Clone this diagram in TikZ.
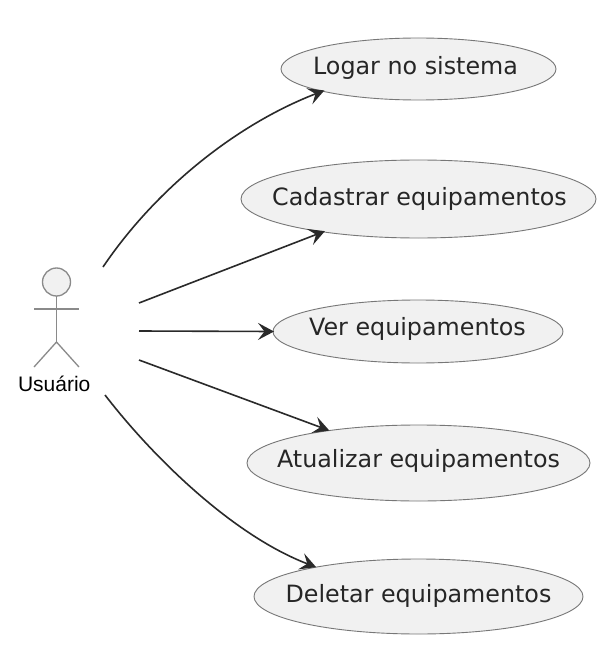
\documentclass[tikz,border=0pt]{standalone}
\usepackage{fontspec}
\setmainfont{DejaVu Sans}
\newfontfamily\labelfont{Liberation Sans}
\usetikzlibrary{shapes.geometric,arrows.meta}
\definecolor{fillc}{HTML}{F1F1F1}
\definecolor{linec}{HTML}{2A2A2A}
\definecolor{edgec}{HTML}{777777}
\definecolor{actc}{HTML}{8A8A8A}
\newcommand{\cenlabel}[3]{\raisebox{#2}[\height][\depth]{\makebox[0pt][c]{\hspace*{#1}#3}}}
\tikzset{
  usecase/.style={ellipse,draw=edgec,fill=fillc,line width=0.9pt,inner sep=0pt,outer sep=0pt,text=black!85,font=\fontsize{23.8}{28}\selectfont},
  assoc/.style={draw=linec,line width=1.6pt,-{Stealth[length=16pt,width=17pt,inset=6.5pt]}},
  stick/.style={draw=actc,line width=1.3pt}
}
\begin{document}
\begin{tikzpicture}[x=1pt,y=-1pt]
\useasboundingbox[fill=white] (0,0) rectangle (615,663);
\node[usecase,minimum width=275pt,minimum height=62pt] (logar) at (418.5,69) {\cenlabel{-6pt}{1pt}{Logar no sistema}};
\node[usecase,minimum width=355pt,minimum height=78pt] (cad) at (418.5,199) {\cenlabel{2pt}{0pt}{Cadastrar equipamentos}};
\node[usecase,minimum width=290pt,minimum height=63pt] (ver) at (418,331.5) {\cenlabel{-1pt}{2.5pt}{Ver equipamentos}};
\node[usecase,minimum width=343pt,minimum height=76pt] (atu) at (418.5,463) {\cenlabel{0pt}{2pt}{Atualizar equipamentos}};
\node[usecase,minimum width=329pt,minimum height=75pt] (del) at (418.5,596.5) {\cenlabel{0pt}{1pt}{Deletar equipamentos}};
% actor
\node[circle,draw=actc,fill=fillc,line width=1.3pt,minimum size=28pt,inner sep=0pt,outer sep=0pt] (head) at (56.5,282) {};
\coordinate (hip) at (56.5,342);
\coordinate (armL) at (34,309);
\coordinate (armR) at (79,309);
\coordinate (legL) at (34,367);
\coordinate (legR) at (79,367);
\draw[stick] (head.south) -- (hip);
\draw[stick] (armL) -- (armR);
\draw[stick] (legL) -- (hip) -- (legR);
\node[font=\labelfont\fontsize{21}{24}\selectfont,text=black,inner sep=0pt] (user) at (54.2,384) {Usuário};
% free ends
\coordinate (s1) at (103,267);
\coordinate (s2) at (139,303);
\coordinate (s3) at (139,331);
\coordinate (s4) at (139,360);
\coordinate (s5) at (105,395);
\draw[assoc,shorten >=-2pt] (s1) .. controls (155,190) and (235,125) .. (logar.193.6);
\draw[assoc,shorten >=-2pt] (s2) -- (cad.199.8);
\draw[assoc,shorten >=-1pt] (s3) -- (ver.180);
\draw[assoc] (s4) -- (atu.160.2);
\draw[assoc] (s5) .. controls (152,456) and (232,535) .. (del.164.5);
\end{tikzpicture}
\end{document}
